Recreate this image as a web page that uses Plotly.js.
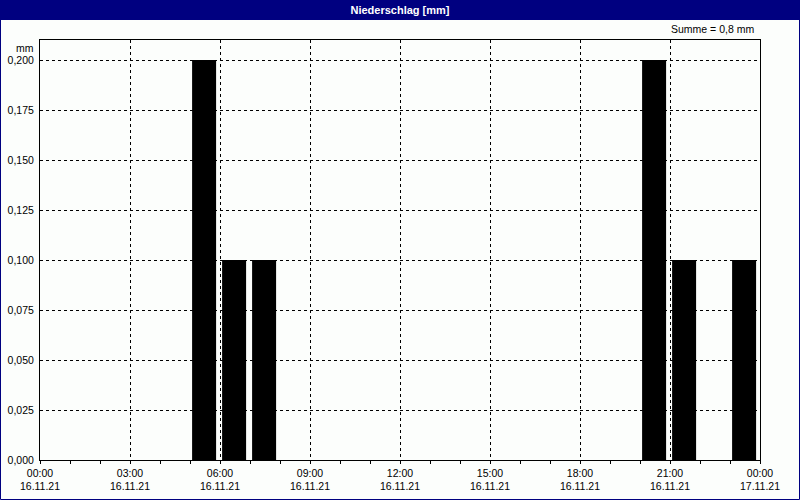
<!DOCTYPE html>
<html>
<head>
<meta charset="utf-8">
<script src="https://cdn.plot.ly/plotly-3.0.1.min.js"></script>
<style>html,body{margin:0;padding:0;background:#fcfefc;}#chart{width:800px;height:500px;}</style>
</head>
<body>
<div id="chart"></div>
<script>
// Data
const hourStart = [5, 6, 7, 20, 21, 23];
const precip = [0.2, 0.1, 0.1, 0.2, 0.1, 0.1];
const xTickVals = [0, 3, 6, 9, 12, 15, 18, 21, 24];
const xTickTimes = ['00:00','03:00','06:00','09:00','12:00','15:00','18:00','21:00','00:00'];
const xTickDates = ['16.11.21','16.11.21','16.11.21','16.11.21','16.11.21','16.11.21','16.11.21','16.11.21','17.11.21'];
const yTickVals = [0, 0.025, 0.05, 0.075, 0.1, 0.125, 0.15, 0.175, 0.2];
const yTickText = ['0,000','0,025','0,050','0,075','0,100','0,125','0,150','0,175','0,200'];
const chartTitle = 'Niederschlag [mm]';
const unitLabel = 'mm';
const sumLabel = 'Summe = 0,8 mm';

const W = 800, H = 500, L = 40, R = 40, T = 40, B = 40;
const pw = W - L - R, ph = H - T - B;
const px = v => v / pw, py = v => v / ph;
const font = {family: 'Liberation Sans, Arial, sans-serif', size: 10.5, color: '#000'};

const trace = {
  type: 'bar',
  x: hourStart,
  y: precip,
  width: 0.8,
  offset: 0.07,
  marker: {color: '#000', line: {width: 0}},
  hoverinfo: 'skip'
};

const layout = {
  width: W, height: H,
  margin: {l: L, r: R, t: T, b: B, pad: 0},
  paper_bgcolor: '#fcfefc',
  plot_bgcolor: '#fcfefc',
  showlegend: false,
  font: font,
  title: {
    text: '<b>' + chartTitle + '</b>',
    font: {family: 'Liberation Sans, Arial, sans-serif', size: 11, color: '#ffffff'},
    x: 0.5, xanchor: 'center', xref: 'container',
    y: 1 - 10 / H, yanchor: 'middle', yref: 'container'
  },
  xaxis: {
    range: [0, 24],
    tickmode: 'array',
    tickvals: xTickVals,
    ticktext: xTickTimes.map((t, i) => t + '<br>' + xTickDates[i]),
    ticks: 'outside', ticklen: 3, tickcolor: '#000', tickwidth: 1,
    minor: {dtick: 1, tick0: 0, ticks: 'outside', ticklen: 3, tickcolor: '#000', showgrid: false},
    showgrid: true, gridcolor: '#000', griddash: '3px,3px', gridwidth: 1,
    showline: true, linecolor: '#000', linewidth: 1, mirror: true,
    zeroline: false,
    tickfont: {family: 'Liberation Sans, Arial, sans-serif', size: 10.5, color: '#000'},
    fixedrange: true
  },
  yaxis: {
    range: [0, 0.21],
    tickmode: 'array',
    tickvals: yTickVals,
    ticktext: yTickText,
    ticks: '', ticklabelstandoff: 3,
    showgrid: true, gridcolor: '#000', griddash: '3px,3px', gridwidth: 1,
    showline: true, linecolor: '#000', linewidth: 1, mirror: true,
    zeroline: false,
    tickfont: {family: 'Liberation Sans, Arial, sans-serif', size: 10.5, color: '#000'},
    fixedrange: true
  },
  shapes: [
    {type: 'rect', xref: 'paper', yref: 'paper', layer: 'below',
     x0: -px(L), x1: 1 + px(R), y0: 1 + py(T - 20), y1: 1 + py(T),
     fillcolor: '#000080', line: {width: 0}},
    {type: 'rect', xref: 'paper', yref: 'paper', layer: 'above',
     x0: -px(L - 0.5), x1: 1 + px(R - 0.5), y0: -py(B - 0.5), y1: 1 + py(T - 0.5),
     fillcolor: 'rgba(0,0,0,0)', line: {width: 1, color: '#000080'}}
  ],
  annotations: [
    {text: unitLabel, xref: 'paper', yref: 'paper', x: -px(4), y: 1 + py(0), xanchor: 'right', yanchor: 'top',
     showarrow: false, font: font},
    {text: sumLabel, xref: 'paper', yref: 'paper', x: 1 - px(4), y: 1 + py(3), xanchor: 'right', yanchor: 'bottom',
     showarrow: false, font: font}
  ]
};

Plotly.newPlot('chart', [trace], layout, {displayModeBar: false, staticPlot: true});
</script>
</body>
</html>
